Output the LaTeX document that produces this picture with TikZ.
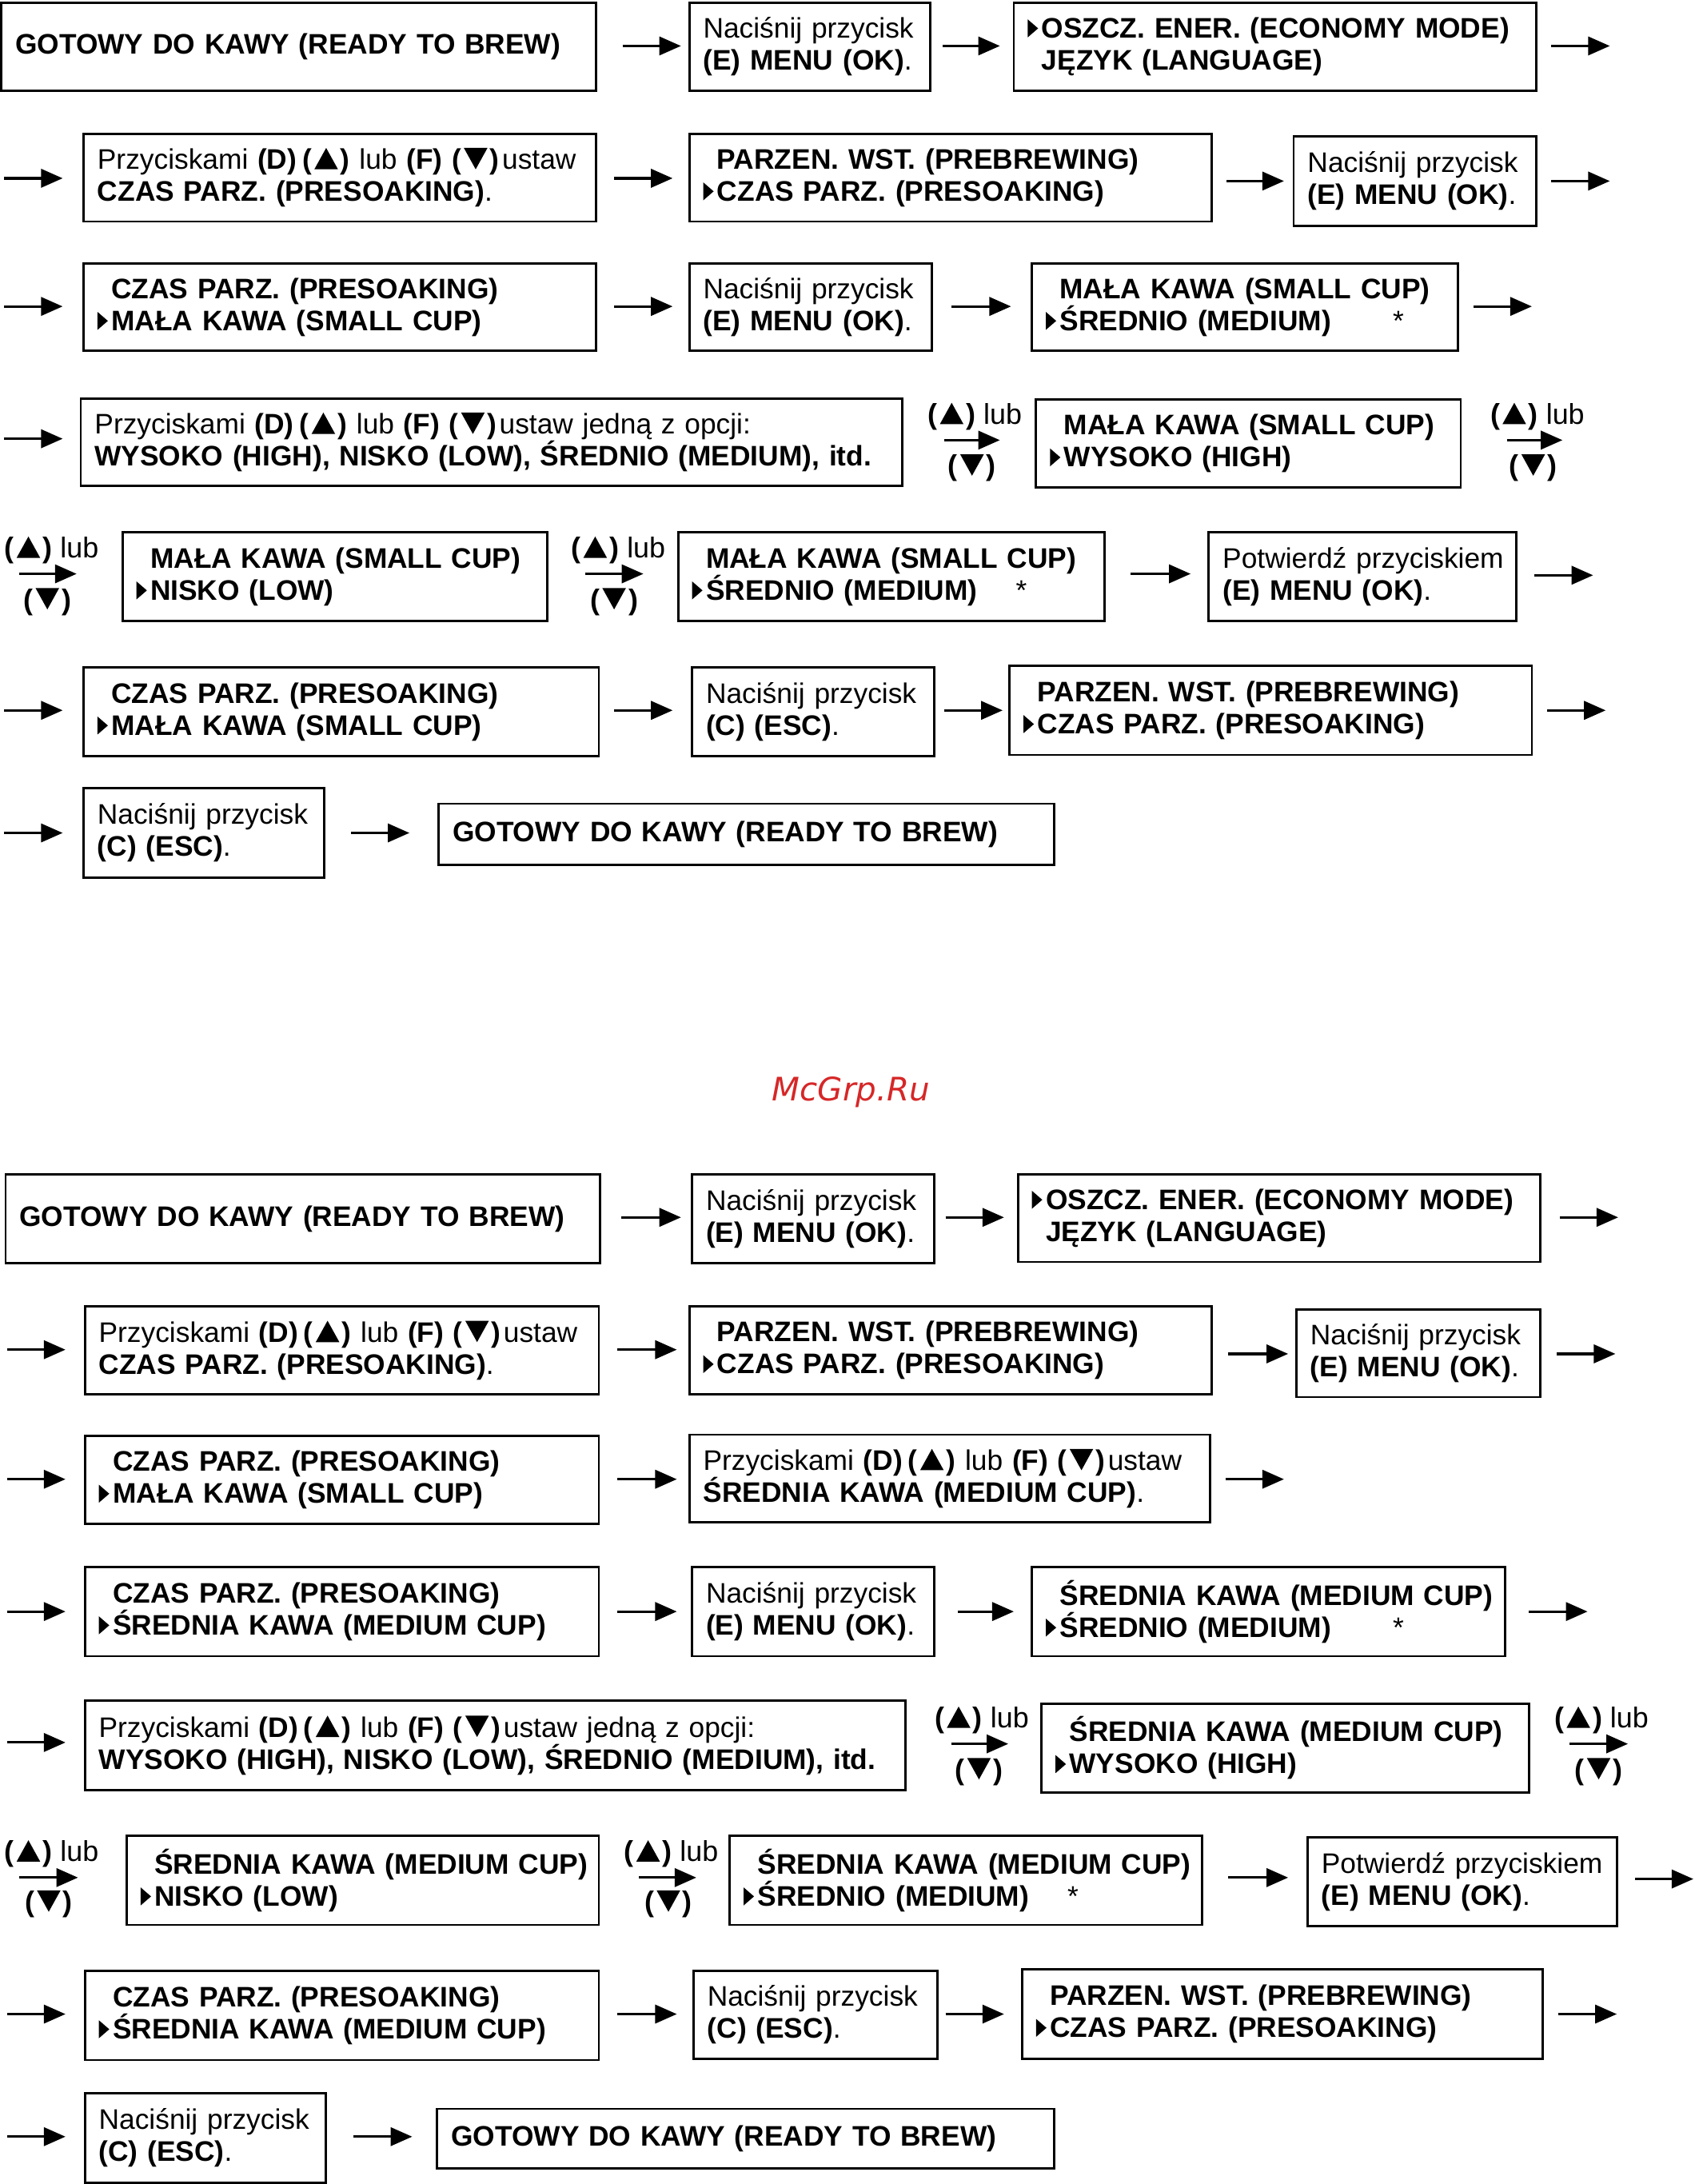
\documentclass[tikz,border=0pt]{standalone}
\usepackage{fontspec}
\setmainfont{Liberation Sans}
\newfontfamily\wmfont{DejaVu Sans}
\usetikzlibrary{arrows.meta}
\definecolor{wmred}{RGB}{214,39,40}
\tikzset{
  box/.style={draw, line width=0.8pt, inner xsep=0.1741cm, inner ysep=0pt, align=left,
    font=\fontsize{10.05pt}{11.4pt}\selectfont},
  arr/.style={line width=0.9pt, -{Triangle[length=0.27cm,width=0.23cm]}},
  lbl/.style={inner sep=0pt, font=\fontsize{10.2pt}{11.4pt}\selectfont},
}
\newcommand\mk{\tikz[baseline=0pt]\fill (0pt,0.2pt) -- (0pt,6.6pt) -- (3.7pt,3.4pt) -- cycle;\hspace{1.25pt}}
\newcommand\ind{\hspace*{4.95pt}}
\newcommand\li[1]{\mbox{#1}}
\newcommand\upt{\tikz[baseline=0pt]\fill (0pt,0pt) -- (8.4pt,0pt) -- (4.2pt,7.6pt) -- cycle;}
\newcommand\dnt{\tikz[baseline=0pt]\fill (0pt,7.6pt) -- (8.4pt,7.6pt) -- (4.2pt,0pt) -- cycle;}
\newcommand\bup{\textbf{(\kern0.9pt\upt\kern0.9pt)}}
\newcommand\bdn{\textbf{(\kern0.9pt\dnt\kern0.9pt)}}
\newcommand\bx[6]{%
  \pgfmathsetmacro\bw{(#4-#2)*0.017412}%
  \pgfmathsetmacro\bh{(#5-#3)*0.017412}%
  \pgfmathsetmacro\tw{(#4-#2-20)*0.017412}%
  \node[box, minimum width=\bw cm, minimum height=\bh cm, text width=\tw cm] (#1) at ({(#2+#4)/2},{(#3+#5)/2}) {#6};}
\newcommand\arw[4]{\coordinate (#1s) at (#2,#4); \coordinate (#1e) at (#3,#4); \draw[arr] (#1s) -- (#1e);}
\newcommand\lub[8]{\node[lbl] (#1u) at (#2,#3) {\bup{} lub}; \node[lbl] (#1d) at (#7,#8) {\bdn}; \arw{#1}{#4}{#5}{#6}}
% texts
\newcommand\tNac{\li{Naciśnij przycisk}\\\li{\textbf{(E) MENU (OK)}.}}
\newcommand\tEsc{\li{Naciśnij przycisk}\\\li{\textbf{(C) (ESC)}.}}
\newcommand\tPot{\li{Potwierdź przyciskiem}\\\li{\textbf{(E) MENU (OK)}.}}
\newcommand\tPrz{Przyciskami \textbf{(D)}\kern2pt\bup{} lub \textbf{(F)} \bdn\kern1pt ustaw}
\newcommand\tGot{\li{\textbf{GOTOWY DO KAWY (READY TO BREW)}}}
\newcommand\tParz{\li{\ind\textbf{PARZEN. WST. (PREBREWING)}}\\\li{\mk\textbf{CZAS PARZ. (PRESOAKING)}}}
\newcommand\tOsz{\li{\mk\textbf{OSZCZ. ENER. (ECONOMY MODE)}}\\\li{\ind\textbf{JĘZYK (LANGUAGE)}}}
\newcommand\tOpc{\li{\tPrz{} jedną z opcji:}\\\li{\textbf{WYSOKO (HIGH), NISKO (LOW), ŚREDNIO (MEDIUM), itd.}}}
\newcommand\tCzas[1]{\li{\ind\textbf{CZAS PARZ. (PRESOAKING)}}\\\li{\mk\textbf{#1}}}
\newcommand\tCup[2]{\li{\ind\textbf{#1}}\\\li{\mk\textbf{#2}}}
\begin{document}
\begin{tikzpicture}[x=0.017412cm, y=-0.017412cm]
\useasboundingbox (0,0) rectangle (1217,1568);
% ---------------- upper sequence ----------------
\bx{t1}{1}{2}{428}{65}{\tGot}
\arw{ta1}{447}{489}{33}
\bx{t2}{495}{2}{668}{65}{\tNac}
\arw{ta2}{677}{718}{33}
\bx{t3}{728}{2}{1103}{65}{\tOsz}
\arw{ta3}{1114}{1156}{33}

\arw{ta4}{3}{45}{128}
\bx{t4}{60}{96}{428}{159}{\li{\tPrz}\\\li{\textbf{CZAS PARZ. (PRESOAKING)}.}}
\arw{ta5}{441}{483}{128}
\bx{t5}{495}{96}{870}{159}{\tParz}
\arw{ta6}{881}{922}{130}
\bx{t6}{929}{98}{1103}{162}{\tNac}
\arw{ta7}{1114}{1156}{130}

\arw{ta8}{3}{45}{220}
\bx{t7}{60}{189}{428}{252}{\tCzas{MAŁA KAWA (SMALL CUP)}}
\arw{ta9}{441}{483}{220}
\bx{t8}{495}{189}{669}{252}{\tNac}
\arw{ta10}{683}{726}{220}
\bx{t9}{741}{189}{1047}{252}{\tCup{MAŁA KAWA (SMALL CUP)}{ŚREDNIO (MEDIUM)\hspace{0.77cm}\mdseries*}}
\arw{ta11}{1058}{1100}{220}

\arw{ta12}{3}{45}{315}
\bx{t10}{58}{286}{648}{349}{\tOpc}
\lub{tl1}{700}{299}{678}{718}{316}{698}{336}
\bx{t11}{744}{287}{1049}{350}{\tCup{MAŁA KAWA (SMALL CUP)}{WYSOKO (HIGH)}}
\lub{tl2}{1104}{299}{1082}{1122}{316}{1101}{336}

\lub{tl3}{37}{395}{14}{55}{412}{34}{432}
\bx{t12}{88}{382}{393}{446}{\tCup{MAŁA KAWA (SMALL CUP)}{NISKO (LOW)}}
\lub{tl4}{444}{395}{420}{462}{412}{441}{432}
\bx{t13}{487}{382}{793}{446}{\tCup{MAŁA KAWA (SMALL CUP)}{ŚREDNIO (MEDIUM)\hspace{0.48cm}\mdseries*}}
\arw{ta13}{812}{855}{412}
\bx{t14}{868}{382}{1089}{446}{\tPot}
\arw{ta14}{1102}{1144}{413}

\arw{ta15}{3}{45}{510}
\bx{t15}{60}{479}{430}{543}{\tCzas{MAŁA KAWA (SMALL CUP)}}
\arw{ta16}{441}{483}{510}
\bx{t16}{497}{479}{671}{543}{\tEsc}
\arw{ta17}{678}{720}{510}
\bx{t17}{725}{478}{1100}{542}{\tParz}
\arw{ta18}{1111}{1153}{510}

\arw{ta19}{3}{45}{598}
\bx{t18}{60}{566}{233}{630}{\tEsc}
\arw{ta20}{252}{294}{598}
\bx{t19}{315}{577}{757}{621}{\tGot}

% watermark
\node[font=\wmfont\itshape\fontsize{11.5pt}{13pt}\selectfont, text=wmred, inner sep=0pt] (wm) at (611,784) {McGrp.Ru};

% ---------------- lower sequence ----------------
\bx{b1}{4}{843}{431}{907}{\tGot}
\arw{ba1}{446}{489}{874}
\bx{b2}{497}{843}{671}{907}{\tNac}
\arw{ba2}{679}{721}{874}
\bx{b3}{731}{843}{1106}{906}{\tOsz}
\arw{ba3}{1120}{1162}{874}

\arw{ba4}{5}{47}{969}
\bx{b4}{61}{938}{430}{1001}{\li{\tPrz}\\\li{\textbf{CZAS PARZ. (PRESOAKING)}.}}
\arw{ba5}{443}{486}{969}
\bx{b5}{495}{938}{870}{1001}{\tParz}
\arw{ba6}{882}{925}{972}
\bx{b6}{931}{940}{1106}{1003}{\tNac}
\arw{ba7}{1118}{1160}{972}

\arw{ba8}{5}{47}{1062}
\bx{b7}{61}{1031}{430}{1094}{\tCzas{MAŁA KAWA (SMALL CUP)}}
\arw{ba9}{443}{486}{1062}
\bx{b8}{495}{1030}{869}{1093}{\li{\tPrz}\\\li{\textbf{ŚREDNIA KAWA (MEDIUM CUP)}.}}
\arw{ba10}{880}{922}{1062}

\arw{ba11}{5}{47}{1157}
\bx{b9}{61}{1125}{430}{1189}{\tCzas{ŚREDNIA KAWA (MEDIUM CUP)}}
\arw{ba12}{443}{486}{1157}
\bx{b10}{497}{1125}{671}{1189}{\tNac}
\arw{ba13}{688}{728}{1157}
\bx{b11}{741}{1125}{1081}{1189}{\tCup{ŚREDNIA KAWA (MEDIUM CUP)}{ŚREDNIO (MEDIUM)\hspace{0.77cm}\mdseries*}}
\arw{ba14}{1098}{1140}{1157}

\arw{ba15}{5}{47}{1251}
\bx{b12}{61}{1221}{650}{1285}{\tOpc}
\lub{bl1}{705}{1235}{683}{724}{1252}{703}{1272}
\bx{b13}{748}{1223}{1098}{1287}{\tCup{ŚREDNIA KAWA (MEDIUM CUP)}{WYSOKO (HIGH)}}
\lub{bl2}{1150}{1235}{1127}{1169}{1252}{1148}{1272}

\lub{bl3}{37}{1331}{14}{56}{1348}{35}{1367}
\bx{b14}{91}{1318}{430}{1382}{\tCup{ŚREDNIA KAWA (MEDIUM CUP)}{NISKO (LOW)}}
\lub{bl4}{482}{1331}{459}{500}{1348}{480}{1367}
\bx{b15}{524}{1318}{863}{1382}{\tCup{ŚREDNIA KAWA (MEDIUM CUP)}{ŚREDNIO (MEDIUM)\hspace{0.48cm}\mdseries*}}
\arw{ba16}{882}{925}{1348}
\bx{b16}{939}{1319}{1161}{1383}{\tPot}
\arw{ba17}{1174}{1216}{1349}

\arw{ba18}{5}{47}{1446}
\bx{b17}{61}{1415}{430}{1479}{\tCzas{ŚREDNIA KAWA (MEDIUM CUP)}}
\arw{ba19}{443}{486}{1446}
\bx{b18}{498}{1415}{673}{1478}{\tEsc}
\arw{ba20}{679}{721}{1446}
\bx{b19}{734}{1414}{1108}{1478}{\tParz}
\arw{ba21}{1119}{1161}{1446}

\arw{ba22}{5}{47}{1534}
\bx{b20}{61}{1503}{234}{1567}{\tEsc}
\arw{ba23}{254}{296}{1534}
\bx{b21}{314}{1514}{757}{1557}{\tGot}
\end{tikzpicture}
\end{document}
